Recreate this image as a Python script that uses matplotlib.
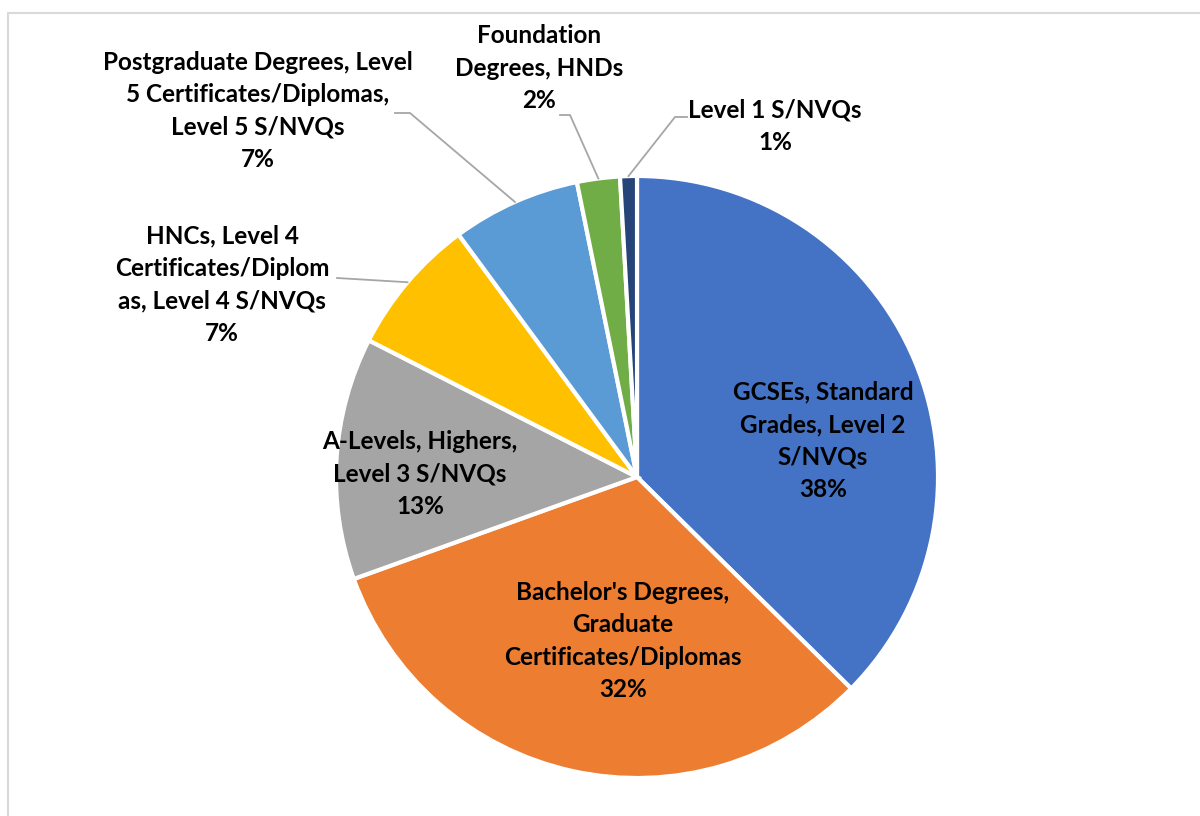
import matplotlib.pyplot as plt
from matplotlib.patches import Rectangle
import numpy as np

# shares by highest qualification (percent)
labels = ["GCSEs, Standard\nGrades, Level 2\nS/NVQs",
          "Bachelor's Degrees,\nGraduate\nCertificates/Diplomas",
          "A-Levels, Highers,\nLevel 3 S/NVQs",
          "HNCs, Level 4\nCertificates/Diplom\nas, Level 4 S/NVQs",
          "Postgraduate Degrees, Level\n5 Certificates/Diplomas,\nLevel 5 S/NVQs",
          "Foundation\nDegrees, HNDs",
          "Level 1 S/NVQs"]
values = [37.4, 32.1, 13.0, 7.4, 6.9, 2.3, 0.9]
pct_text = ["38%", "32%", "13%", "7%", "7%", "2%", "1%"]
colors = ['#4472C4', '#ED7D31', '#A5A5A5', '#FFC000', '#5B9BD5', '#70AD47', '#264478']

# layout (pixels, y measured from top)
W, H = 1200, 816
cx, cy, R = 637, 477, 301
explode = [0.02, 0, 0, 0, 0, 0, 0]
label_pos = [(823, 441), (623, 641), (420, 474), (222, 285), (258, 111), (539, 68), (775, 126)]
outside = [False, False, False, True, True, True, True]
# where the leader line leaves the label
leader_start = [None, None, None, (337, 278), (395, 113), (560, 115), (687, 117)]
leader_knee = [None, None, None, (337, 278), (410, 113), (570, 115), (675, 117)]

plt.rcParams['font.family'] = ['Lato', 'DejaVu Sans']

fig = plt.figure(figsize=(12, 8.16), dpi=100)
ax = fig.add_axes([0, 0, 1, 1])

wedges, _ = ax.pie(values, colors=colors, startangle=90, counterclock=False,
                   explode=explode, center=(cx, H - cy), radius=R,
                   wedgeprops=dict(edgecolor='white', linewidth=3))
ax.set_xlim(0, W)
ax.set_ylim(0, H)
ax.axis('off')

for i, w in enumerate(wedges):
    txt = labels[i] + "\n" + pct_text[i]
    lx, ly = label_pos[i]
    ax.text(lx, H - ly, txt, ha='center', va='center', fontsize=17.5,
            fontweight='bold', color='black', linespacing=1.5)
    if outside[i]:
        mid = np.deg2rad((w.theta1 + w.theta2) / 2)
        ex = w.center[0] + w.r * np.cos(mid)
        ey = w.center[1] + w.r * np.sin(mid)
        sx, sy = leader_start[i]
        kx, ky = leader_knee[i]
        ax.plot([sx, kx, ex], [H - sy, H - ky, ey], color='#A6A6A6', linewidth=1.3)

# chart area border
fig.patches.append(Rectangle((8 / W, -0.01), 1.0, 1 - 13 / H + 0.01, transform=fig.transFigure,
                             fill=False, edgecolor='#D9D9D9', linewidth=1.5))

fig.savefig('out.png', dpi=100)
